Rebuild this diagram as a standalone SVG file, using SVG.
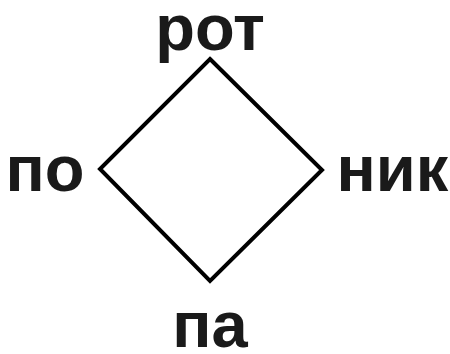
<svg xmlns="http://www.w3.org/2000/svg" width="450" height="354" viewBox="0 0 450 354">
<style>
.lbl{font-family:"Liberation Sans",Arial,sans-serif;font-weight:bold;font-size:65px;fill:#1a1a1a}
.edge{fill:none;stroke:#000;stroke-width:4;stroke-linejoin:miter}
</style>
<rect width="450" height="354" fill="#fff"/>
<g id="connectors">
<polygon class="edge" points="210,59 322,170 210,281 100,169"/>
</g>
<g id="node-top"><text class="lbl" x="210" y="50" text-anchor="middle">рот</text></g>
<g id="node-left"><text class="lbl" x="5.5" y="191">по</text></g>
<g id="node-right"><text class="lbl" x="336.5" y="191">ник</text></g>
<g id="node-bottom"><text class="lbl" x="210" y="347" text-anchor="middle">па</text></g>
</svg>
